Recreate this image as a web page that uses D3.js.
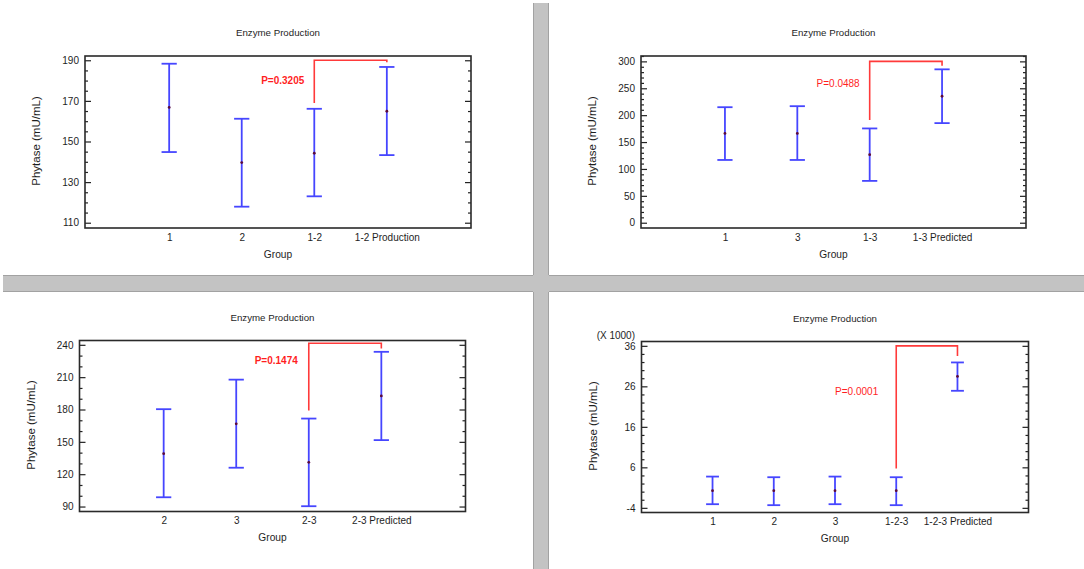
<!DOCTYPE html>
<html>
<head>
<meta charset="utf-8">
<script src="https://cdn.jsdelivr.net/npm/d3@7"></script>
<style>
  html, body { margin: 0; padding: 0; background: #ffffff; }
  svg { display: block; }
  text { font-family: "Liberation Sans", Arial, Helvetica, sans-serif; fill: #1e1e1e; }
</style>
</head>
<body>
<svg id="chart" width="1084" height="569"></svg>
<script>
// ---------------- DATA ----------------
// Panel A (top-left)
const groupsA = ["1", "2", "1-2", "1-2 Production"];
const meansA  = [166.8, 139.6, 144.2, 164.9];
const lowerA  = [144.8, 117.9, 123.0, 143.3];
const upperA  = [188.3, 161.2, 166.1, 186.7];
const ticksA  = [110, 130, 150, 170, 190];
const bracketA = [169, 190, 189];      // left end, top, right end
const pLabelA = "P=0.3205";
const pValueYA = 180;

// Panel B (top-right)
const groupsB = ["1", "3", "1-3", "1-3 Predicted"];
const meansB  = [166, 166, 126.5, 235.2];
const lowerB  = [116.7, 116.7, 77.8, 185.2];
const upperB  = [214.8, 216.7, 175.3, 285.2];
const ticksB  = [0, 50, 100, 150, 200, 250, 300];
const bracketB = [191, 300, 292];
const pLabelB = "P=0.0488";
const pValueYB = 258;

// Panel C (bottom-left)
const groupsC = ["2", "3", "2-3", "2-3 Predicted"];
const meansC  = [139, 166.7, 131, 192.6];
const lowerC  = [98.6, 126, 90.3, 151.6];
const upperC  = [180.3, 207.7, 171.6, 233.5];
const ticksC  = [90, 120, 150, 180, 210, 240];
const bracketC = [179, 241.5, 236.6];
const pLabelC = "P=0.1474";
const pValueYC = 225.8;

// Panel D (bottom-right), values in thousands (X 1000)
const groupsD = ["1", "2", "3", "1-2-3", "1-2-3 Predicted"];
const meansD  = [0.25, 0.25, 0.25, 0.25, 28.44];
const lowerD  = [-3.1, -3.34, -3.1, -3.34, 24.9];
const upperD  = [3.72, 3.56, 3.72, 3.56, 31.9];
const ticksD  = [-4, 6, 16, 26, 36];
const bracketD = [5.7, 36, 33.5];
const pLabelD = "P=0.0001";
const pValueYD = 24.8;

const titleText = "Enzyme Production";
const xLabelText = "Group";
const yLabelText = "Phytase (mU/mL)";

// ---------------- LAYOUT ----------------
const svg = d3.select("#chart");

const panels = [
  { groups: groupsA, means: meansA, lower: lowerA, upper: upperA, ticks: ticksA, minor: 5,
    bracket: bracketA, pLabel: pLabelA, pY: pValueYA, pBold: true, pGap: 10,
    x0: 85, x1: 471, y0: 56, y1: 228, dom: [107.4, 192.1] },
  { groups: groupsB, means: meansB, lower: lowerB, upper: upperB, ticks: ticksB, minor: 10,
    bracket: bracketB, pLabel: pLabelB, pY: pValueYB, pBold: false, pGap: 10,
    x0: 641, x1: 1026, y0: 56, y1: 228, dom: [-9.8, 310] },
  { groups: groupsC, means: meansC, lower: lowerC, upper: upperC, ticks: ticksC, minor: 10,
    bracket: bracketC, pLabel: pLabelC, pY: pValueYC, pBold: true, pGap: 11,
    x0: 79.5, x1: 465.5, y0: 340.5, y1: 511.5, dom: [85.4, 244] },
  { groups: groupsD, means: meansD, lower: lowerD, upper: upperD, ticks: ticksD, minor: 2,
    bracket: bracketD, pLabel: pLabelD, pY: pValueYD, pBold: false, pGap: 18,
    x0: 641.5, x1: 1028.5, y0: 341.5, y1: 512.5, dom: [-5.15, 37.07], multiplier: "(X 1000)" }
];

// gray separators
const sepFill = "#c3c3c3", sepEdge = "#a2a2a2";
svg.append("rect").attr("x", 3).attr("y", 275).attr("width", 1081).attr("height", 17).attr("fill", sepFill);
svg.append("rect").attr("x", 533).attr("y", 3).attr("width", 16).attr("height", 566).attr("fill", sepFill);
[[3, 275.5, 533, 275.5], [549, 275.5, 1084, 275.5], [3, 291.5, 533, 291.5], [549, 291.5, 1084, 291.5],
 [533.5, 3, 533.5, 275], [548.5, 3, 548.5, 275], [533.5, 292, 533.5, 569], [548.5, 292, 548.5, 569]]
  .forEach(l => svg.append("line").attr("x1", l[0]).attr("y1", l[1]).attr("x2", l[2]).attr("y2", l[3])
    .attr("stroke", sepEdge).attr("stroke-width", 1));

const fmtTick = d => String(d);   // plain hyphen-minus, as in the reference

panels.forEach(p => {
  const g = svg.append("g");
  const x = d3.scalePoint().domain(p.groups).range([p.x0, p.x1]).padding(1.16);
  const y = d3.scaleLinear().domain(p.dom).range([p.y1, p.y0]);
  const cx = (p.x0 + p.x1) / 2;
  const cy = (p.y0 + p.y1) / 2;

  // minor ticks
  const [d0, d1] = p.dom;
  const minorVals = d3.range(Math.ceil(d0 / p.minor) * p.minor, d1 + 1e-9, p.minor)
    .filter(v => !p.ticks.some(t => Math.abs(t - v) < 1e-9));

  const styleAxis = sel => {
    sel.select(".domain").remove();
    sel.selectAll("line").attr("stroke", "#222").attr("stroke-width", 1.2);
    sel.selectAll("text").attr("font-size", 10).attr("fill", "#1e1e1e")
      .attr("font-family", "'Liberation Sans', Arial, sans-serif");
  };

  g.append("g").attr("transform", `translate(${p.x0},0)`)
    .call(d3.axisLeft(y).tickValues(p.ticks).tickSize(-6).tickPadding(6).tickFormat(fmtTick))
    .call(styleAxis);
  g.append("g").attr("transform", `translate(${p.x0},0)`)
    .call(d3.axisLeft(y).tickValues(minorVals).tickSize(-3).tickFormat(""))
    .call(styleAxis);
  g.append("g").attr("transform", `translate(${p.x1},0)`)
    .call(d3.axisRight(y).tickValues(p.ticks).tickSize(-6).tickFormat(""))
    .call(styleAxis);
  g.append("g").attr("transform", `translate(${p.x1},0)`)
    .call(d3.axisRight(y).tickValues(minorVals).tickSize(-3).tickFormat(""))
    .call(styleAxis);

  // x axis labels
  g.append("g").attr("transform", `translate(0,${p.y1})`)
    .call(d3.axisBottom(x).tickSize(0).tickPadding(5.5))
    .call(styleAxis);

  // frame
  g.append("rect").attr("x", p.x0).attr("y", p.y0)
    .attr("width", p.x1 - p.x0).attr("height", p.y1 - p.y0)
    .attr("fill", "none").attr("stroke", "#2a2a2a").attr("stroke-width", 1.6);

  // title and axis titles
  g.append("text").attr("x", cx).attr("y", p.y0 - 23).attr("dy", "0.35em")
    .attr("text-anchor", "middle").attr("font-size", 9.7).text(titleText);
  g.append("text").attr("x", cx).attr("y", p.y1 + 26).attr("dy", "0.35em")
    .attr("text-anchor", "middle").attr("font-size", 10.2).text(xLabelText);
  g.append("text").attr("transform", `translate(${p.x0 - 49},${cy - 1}) rotate(-90)`).attr("dy", "0.35em")
    .attr("text-anchor", "middle").attr("font-size", 11.5).text(yLabelText);
  if (p.multiplier) {
    g.append("text").attr("x", p.x0 - 6.5).attr("y", p.y0 - 6).attr("dy", "0.35em")
      .attr("text-anchor", "end").attr("font-size", 10).text(p.multiplier);
  }

  // error bars
  const step = x.step();
  const capHalf = step * 0.105;
  const blue = "#4646ff";
  p.groups.forEach((gr, i) => {
    const xx = x(gr);
    g.append("line").attr("x1", xx).attr("x2", xx).attr("y1", y(p.lower[i])).attr("y2", y(p.upper[i]))
      .attr("stroke", blue).attr("stroke-width", 1.8);
    [p.lower[i], p.upper[i]].forEach(v => {
      g.append("line").attr("x1", xx - capHalf).attr("x2", xx + capHalf).attr("y1", y(v)).attr("y2", y(v))
        .attr("stroke", blue).attr("stroke-width", 1.8);
    });
    g.append("circle").attr("cx", xx).attr("cy", y(p.means[i])).attr("r", 1.4).attr("fill", "#5a0a3c");
  });

  // significance bracket
  const n = p.groups.length;
  const xa = x(p.groups[n - 2]), xb = x(p.groups[n - 1]);
  const red = "#ff3a3a";
  g.append("path")
    .attr("d", `M${xa},${y(p.bracket[0])}V${y(p.bracket[1])}H${xb}V${y(p.bracket[2])}`)
    .attr("fill", "none").attr("stroke", red).attr("stroke-width", 1.6);
  g.append("text").attr("x", xa - p.pGap).attr("y", y(p.pY)).attr("dy", "0.35em")
    .attr("text-anchor", "end").attr("font-size", 10)
    .attr("font-weight", p.pBold ? "bold" : "normal")
    .style("fill", "#ff1f1f").text(p.pLabel);
});
</script>
</body>
</html>
